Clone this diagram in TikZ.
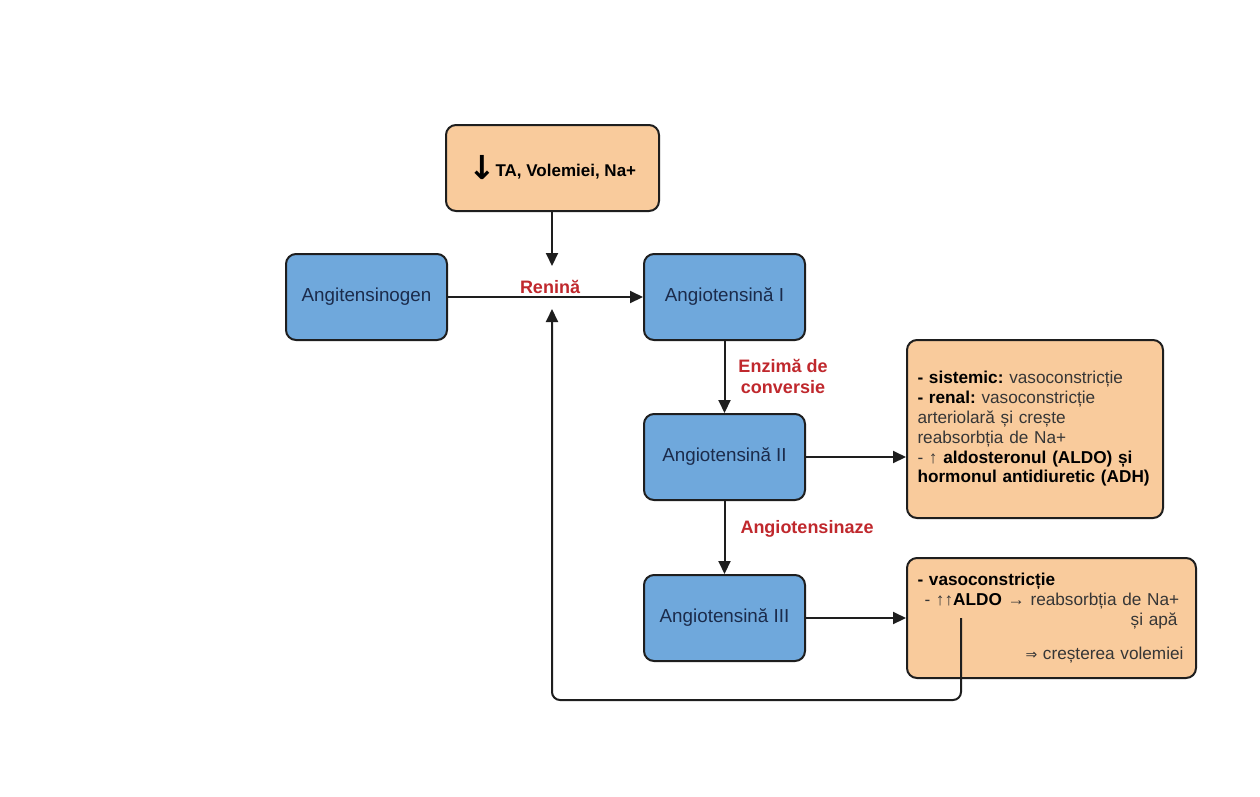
\documentclass[tikz,border=0pt]{standalone}
\usepackage{fontspec}
\setmainfont{Liberation Sans}
\newfontfamily\symf{DejaVu Sans}
\usetikzlibrary{arrows.meta}

\definecolor{boxblue}{HTML}{6FA8DC}
\definecolor{boxorange}{HTML}{F9CB9C}
\definecolor{navytext}{HTML}{1B2B4B}
\definecolor{labelred}{HTML}{C0282D}
\definecolor{bodytext}{HTML}{363636}
\definecolor{edge}{HTML}{1E1E1E}

\tikzset{
  card/.style={draw=edge, line width=2pt, rounded corners=10pt, inner sep=0pt},
  bluecard/.style={card, fill=boxblue, text=navytext,
    minimum width=161pt, minimum height=86pt,
    font=\fontsize{18.8}{22}\selectfont},
  orangecard/.style={card, fill=boxorange},
  notecard/.style={orangecard, text=bodytext, align=left, inner xsep=10.5pt,
    font=\frenchspacing\fontsize{17.2}{19.8}\selectfont},
  enzyme/.style={text=labelred, font=\bfseries\fontsize{18}{21}\selectfont, inner sep=0pt},
  flow/.style={draw=edge, line width=2pt, -{Triangle[length=13pt,width=12pt]}},
}

\begin{document}
\begin{tikzpicture}[x=1pt,y=-1pt]
\useasboundingbox[fill=white] (0,0) rectangle (1260,796);

% trigger
\node[orangecard, minimum width=213pt, minimum height=86pt, text=black,
      font=\bfseries\fontsize{17}{20}\selectfont] (trigger) at (552.5,168)
  {\raisebox{-3pt}{\symf\bfseries\fontsize{33}{33}\selectfont ↓}\hspace{-1pt}TA, Volemiei, Na+};

% cascade
\node[bluecard] (agen) at (366.5,297) {Angitensinogen};
\node[bluecard] (ang1) at (724.5,297) {Angiotensină I};
\node[bluecard] (ang2) at (724.5,457) {Angiotensină II};
\node[bluecard] (ang3) at (724.5,618) {Angiotensină III};

% effects
\node[notecard, minimum width=256pt, minimum height=178pt, text width=235pt]
  (eff2) at (1035,429)
  {{\color{black}\bfseries - sistemic:} vasoconstricție\\
   {\color{black}\bfseries - renal:} vasoconstricție\\
   arteriolară și crește\\
   reabsorbția de Na+\\
   - ↑ {\color{black}\bfseries aldosteronul (ALDO) și}\\
   {\color{black}\bfseries hormonul antidiuretic (ADH)}};

\node[notecard, minimum width=289pt, minimum height=120pt, text width=268pt]
  (eff3) at (1051.5,618)
  {{\color{black}\bfseries - vasoconstricție}\\
   \hspace*{7pt}- ↑↑{\color{black}\bfseries ALDO} → reabsorbția de Na+\\
   \hfill și apă\kern8pt\mbox{}\\[14pt]
   \hfill{\symf\fontsize{14}{14}\selectfont ⇒} creșterea volemiei\kern2pt\mbox{}};

% enzyme labels
\node[enzyme] (renin) at (550,287) {Renină};
\node[enzyme, align=center] (ace) at (783,376) {Enzimă de\\conversie};
\node[enzyme] (angase) at (807,529) {Angiotensinaze};

% connector end points
\coordinate (renintop) at (552,266);
\coordinate (reninbot) at (552,309);
\coordinate (aldo) at (961,618);

% connectors
\draw[flow] (trigger.south -| renintop) -- (renintop);
\draw[flow] (agen.east) -- (ang1.west);
\draw[flow] (ang1.south) -- (ang2.north);
\draw[flow] (ang2.south) -- (ang3.north);
\draw[flow] (ang2.east) -- (eff2.west |- ang2.east);
\draw[flow] (ang3.east) -- (eff3.west);
\draw[flow, rounded corners=8pt] (aldo) -- (961,700) -- (552,700) -- (reninbot);
\end{tikzpicture}
\end{document}
